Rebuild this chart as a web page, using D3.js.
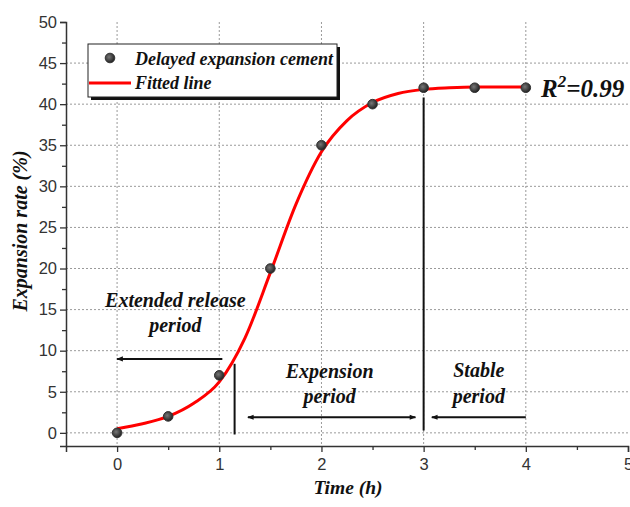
<!DOCTYPE html>
<html>
<head>
<meta charset="utf-8">
<script src="https://cdn.jsdelivr.net/npm/d3@7/dist/d3.min.js"></script>
<style>
  html, body { margin: 0; padding: 0; background: #fff; }
  svg { display: block; }
  .serif { font-family: "Liberation Serif", "Times New Roman", serif; font-weight: bold; font-style: italic; fill: #111; }
  .tick text { font-family: "Liberation Sans", Arial, sans-serif; font-size: 16.5px; fill: #333; }
</style>
</head>
<body>
<svg id="chart" width="630" height="507"></svg>
<script>
// Measured expansion (%) at each time (h)
const timeH = [0, 0.5, 1, 1.5, 2, 2.5, 3, 3.5, 4];
const expansion = [0, 2, 7, 20, 35, 40, 42, 42, 42];

// Fitted sigmoid curve, sampled along time
const fitTime = [0, 0.25, 0.5, 0.75, 1, 1.25, 1.5, 1.75, 2, 2.25, 2.5, 2.75, 3, 3.25, 3.5, 3.75, 4];
const fitValue = [0.5, 1.1, 2.0, 3.6, 6.2, 11.5, 19.5, 27.8, 34.2, 38.0, 40.2, 41.3, 41.8, 42.0, 42.1, 42.1, 42.1];

// Axis ticks
const xTicks = [0, 1, 2, 3, 4, 5];
const xMinor = [0.5, 1.5, 2.5, 3.5, 4.5];
const yTicks = [0, 5, 10, 15, 20, 25, 30, 35, 40, 45, 50];
const yMinor = [2.5, 7.5, 12.5, 17.5, 22.5, 27.5, 32.5, 37.5, 42.5, 47.5];
const xGrid = [0, 1, 2, 3, 4];
const yGrid = [0, 5, 10, 15, 20, 25, 30, 35, 40, 45];

// Period boundaries and annotation arrows (in data units)
const releaseEnd = 1.15;
const expansionEnd = 3;
const arrowRelease = { from: 1.03, to: 0, level: 9 };
const arrowExpansion = { from: 1.28, to: 2.92, level: 1.9 };
const arrowStable = { from: 4, to: 3.08, level: 1.9 };
const r2Text = "0.99";

const svg = d3.select("#chart");
const x = d3.scaleLinear().domain([-0.5, 5]).range([66, 628]);
const y = d3.scaleLinear().domain([-1.6, 50]).range([446, 22]);

const defs = svg.append("defs");
defs.append("marker")
  .attr("id", "head")
  .attr("viewBox", "0 0 10 10")
  .attr("refX", 9).attr("refY", 5)
  .attr("markerWidth", 4).attr("markerHeight", 3.2)
  .attr("markerUnits", "strokeWidth")
  .attr("orient", "auto-start-reverse")
  .append("path").attr("d", "M0,1 L10,5 L0,9 Z").attr("fill", "#111");

const grad = defs.append("radialGradient").attr("id", "ball")
  .attr("cx", "40%").attr("cy", "40%").attr("r", "60%");
grad.append("stop").attr("offset", "0%").attr("stop-color", "#777");
grad.append("stop").attr("offset", "100%").attr("stop-color", "#222");

// Grid
const grid = svg.append("g").attr("stroke", "#9a9a9a").attr("stroke-width", 1).attr("stroke-dasharray", "2,2");
grid.selectAll(".gx").data(xGrid).join("line")
  .attr("x1", d => x(d)).attr("x2", d => x(d))
  .attr("y1", y(50)).attr("y2", y(-1.6));
grid.selectAll(".gy").data(yGrid).join("line")
  .attr("x1", x(-0.5)).attr("x2", x(5))
  .attr("y1", d => y(d)).attr("y2", d => y(d));

// Axes
const xAxis = d3.axisBottom(x).tickValues(xTicks).tickFormat(d3.format("d")).tickSize(6).tickPadding(6);
const gx = svg.append("g").attr("transform", `translate(0,${y(-1.6)})`).call(xAxis);
gx.select(".domain").attr("stroke", "#333").attr("stroke-width", 1.5);
gx.selectAll(".tick line").attr("stroke", "#333").attr("stroke-width", 1.3);
svg.append("g").attr("transform", `translate(0,${y(-1.6)})`)
  .call(d3.axisBottom(x).tickValues(xMinor).tickFormat("").tickSize(4))
  .call(g => g.select(".domain").remove())
  .selectAll(".tick line").attr("stroke", "#333").attr("stroke-width", 1.3);

const yAxis = d3.axisLeft(y).tickValues(yTicks).tickFormat(d3.format("d")).tickSize(6).tickPadding(3);
const gy = svg.append("g").attr("transform", `translate(${x(-0.5)},0)`).call(yAxis);
gy.select(".domain").attr("stroke", "#333").attr("stroke-width", 1.5);
gy.selectAll(".tick line").attr("stroke", "#333").attr("stroke-width", 1.3);
svg.append("g").attr("transform", `translate(${x(-0.5)},0)`)
  .call(d3.axisLeft(y).tickValues(yMinor).tickFormat("").tickSize(4))
  .call(g => g.select(".domain").remove())
  .selectAll(".tick line").attr("stroke", "#333").attr("stroke-width", 1.3);

// Axis titles
svg.append("text").attr("class", "serif")
  .attr("x", 348).attr("y", 494).attr("text-anchor", "middle")
  .attr("font-size", 19.5).text("Time (h)");
svg.append("text").attr("class", "serif")
  .attr("transform", `translate(27,${231}) rotate(-90)`)
  .attr("text-anchor", "middle").attr("font-size", 20).text("Expansion rate (%)");

// Period boundary lines
const ann = svg.append("g").attr("stroke", "#111").attr("stroke-width", 2);
ann.append("line")
  .attr("x1", x(releaseEnd)).attr("x2", x(releaseEnd))
  .attr("y1", y(8.4)).attr("y2", y(-0.2));
ann.append("line")
  .attr("x1", x(expansionEnd)).attr("x2", x(expansionEnd))
  .attr("y1", y(40.8)).attr("y2", y(0.3));

// Period arrows
ann.append("line")
  .attr("x1", x(arrowRelease.from)).attr("x2", x(arrowRelease.to))
  .attr("y1", y(arrowRelease.level)).attr("y2", y(arrowRelease.level))
  .attr("marker-end", "url(#head)");
ann.append("line")
  .attr("x1", x(arrowExpansion.from)).attr("x2", x(arrowExpansion.to))
  .attr("y1", y(arrowExpansion.level)).attr("y2", y(arrowExpansion.level))
  .attr("marker-start", "url(#head)").attr("marker-end", "url(#head)");
ann.append("line")
  .attr("x1", x(arrowStable.from)).attr("x2", x(arrowStable.to))
  .attr("y1", y(arrowStable.level)).attr("y2", y(arrowStable.level))
  .attr("marker-end", "url(#head)");

// Period labels
const labels = [
  { lines: ["Extended release", "period"], cx: 0.57, top: 307, gap: 25 },
  { lines: ["Expension", "period"], cx: 2.08, top: 378, gap: 25 },
  { lines: ["Stable", "period"], cx: 3.54, top: 377, gap: 26 }
];
labels.forEach(l => {
  const t = svg.append("text").attr("class", "serif").attr("font-size", 20)
    .attr("text-anchor", "middle");
  l.lines.forEach((s, i) => {
    t.append("tspan").attr("x", x(l.cx)).attr("y", l.top + i * l.gap).text(s);
  });
});

// Fitted curve
const line = d3.line().x((d, i) => x(fitTime[i])).y(d => y(d)).curve(d3.curveMonotoneX);
svg.append("path").datum(fitValue)
  .attr("d", line).attr("fill", "none")
  .attr("stroke", "#ff0000").attr("stroke-width", 3);

// Measured points
svg.append("g").selectAll("circle").data(expansion).join("circle")
  .attr("cx", (d, i) => x(timeH[i])).attr("cy", d => y(d)).attr("r", 4.8)
  .attr("fill", "url(#ball)").attr("stroke", "#333").attr("stroke-width", 1);

// R² label
const r2 = svg.append("text").attr("class", "serif").attr("x", 541).attr("y", 97).attr("font-size", 25);
r2.append("tspan").text("R");
r2.append("tspan").attr("font-size", 17).attr("dy", -10).text("2");
r2.append("tspan").attr("dy", 10).text("=" + r2Text);

// Legend
const lg = svg.append("g");
lg.append("rect").attr("x", 91).attr("y", 47).attr("width", 249).attr("height", 53).attr("fill", "#111");
lg.append("rect").attr("x", 88).attr("y", 44).attr("width", 249).attr("height", 53)
  .attr("fill", "#fff").attr("stroke", "#222").attr("stroke-width", 1);
lg.append("circle").attr("cx", 110).attr("cy", 58).attr("r", 4.8)
  .attr("fill", "url(#ball)").attr("stroke", "#333");
lg.append("text").attr("class", "serif").attr("x", 135).attr("y", 65).attr("font-size", 18)
  .text("Delayed expansion cement");
lg.append("line").attr("x1", 89).attr("x2", 131).attr("y1", 83).attr("y2", 83)
  .attr("stroke", "#ff0000").attr("stroke-width", 3);
lg.append("text").attr("class", "serif").attr("x", 135).attr("y", 89).attr("font-size", 18)
  .text("Fitted line");
</script>
</body>
</html>
